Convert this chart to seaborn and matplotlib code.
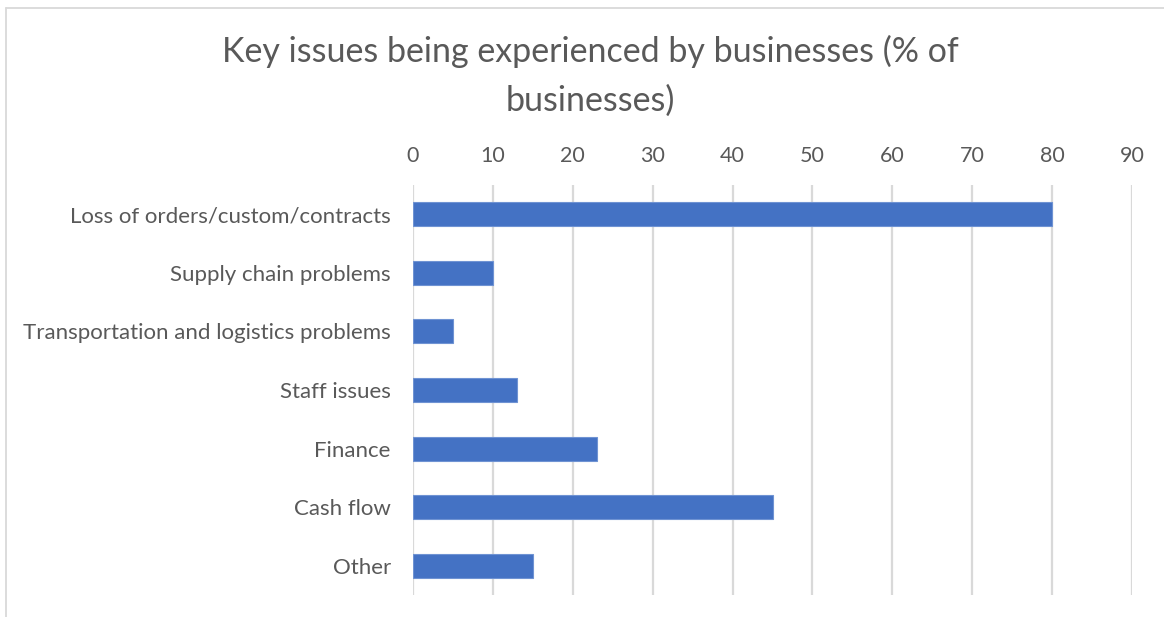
import matplotlib
matplotlib.use("Agg")
import matplotlib.pyplot as plt
from matplotlib.lines import Line2D
import seaborn as sns
import pandas as pd

categories = [
    "Loss of orders/custom/contracts",
    "Supply chain problems",
    "Transportation and logistics problems",
    "Staff issues",
    "Finance",
    "Cash flow",
    "Other",
]
values = [80, 10, 5, 13, 23, 45, 15]
x_ticks = [0, 10, 20, 30, 40, 50, 60, 70, 80, 90]

title = "Key issues being experienced by businesses (% of\nbusinesses)"

TEXT = "#595959"
GRID = "#d9d9d9"
BAR = "#4472C4"

sns.set_theme(style="white")
plt.rcParams["font.family"] = ["Lato", "DejaVu Sans"]

df = pd.DataFrame({"issue": categories, "pct": values})

fig = plt.figure(figsize=(11.64, 6.17), dpi=100)
ax = fig.add_axes([413 / 1164, 1 - 595 / 617, (1132 - 413) / 1164, (595 - 185) / 617])

sns.barplot(data=df, x="pct", y="issue", orient="h", color=BAR, saturation=1,
            width=0.41, edgecolor="#6f93d3", linewidth=0.8, ax=ax, zorder=3)

ax.set_xlim(0, 90)
ax.set_ylim(len(categories) - 0.5, -0.5)
ax.set_xticks(x_ticks)
ax.xaxis.tick_top()
ax.xaxis.set_label_position("top")
ax.set_xlabel("")
ax.set_ylabel("")
ax.grid(axis="x", color=GRID, linewidth=1.6, zorder=0)
ax.grid(axis="y", visible=False)
for s in ax.spines.values():
    s.set_visible(False)
ax.tick_params(axis="x", length=0, pad=14, labelsize=15.5, labelcolor=TEXT)
ax.tick_params(axis="y", length=0, pad=16, labelsize=16, labelcolor=TEXT)

fig.text(0.507, 1 - 76 / 617, title, ha="center", va="center", fontsize=24.5,
         color=TEXT, linespacing=1.62)

# chart frame (top and left edges)
fig.add_artist(Line2D([6 / 1164, 1.0], [1 - 8 / 617, 1 - 8 / 617],
                      transform=fig.transFigure, color=GRID, linewidth=1.3))
fig.add_artist(Line2D([6 / 1164, 6 / 1164], [0, 1 - 8 / 617],
                      transform=fig.transFigure, color=GRID, linewidth=1.3))

fig.savefig("out.png", dpi=100, facecolor="white")
